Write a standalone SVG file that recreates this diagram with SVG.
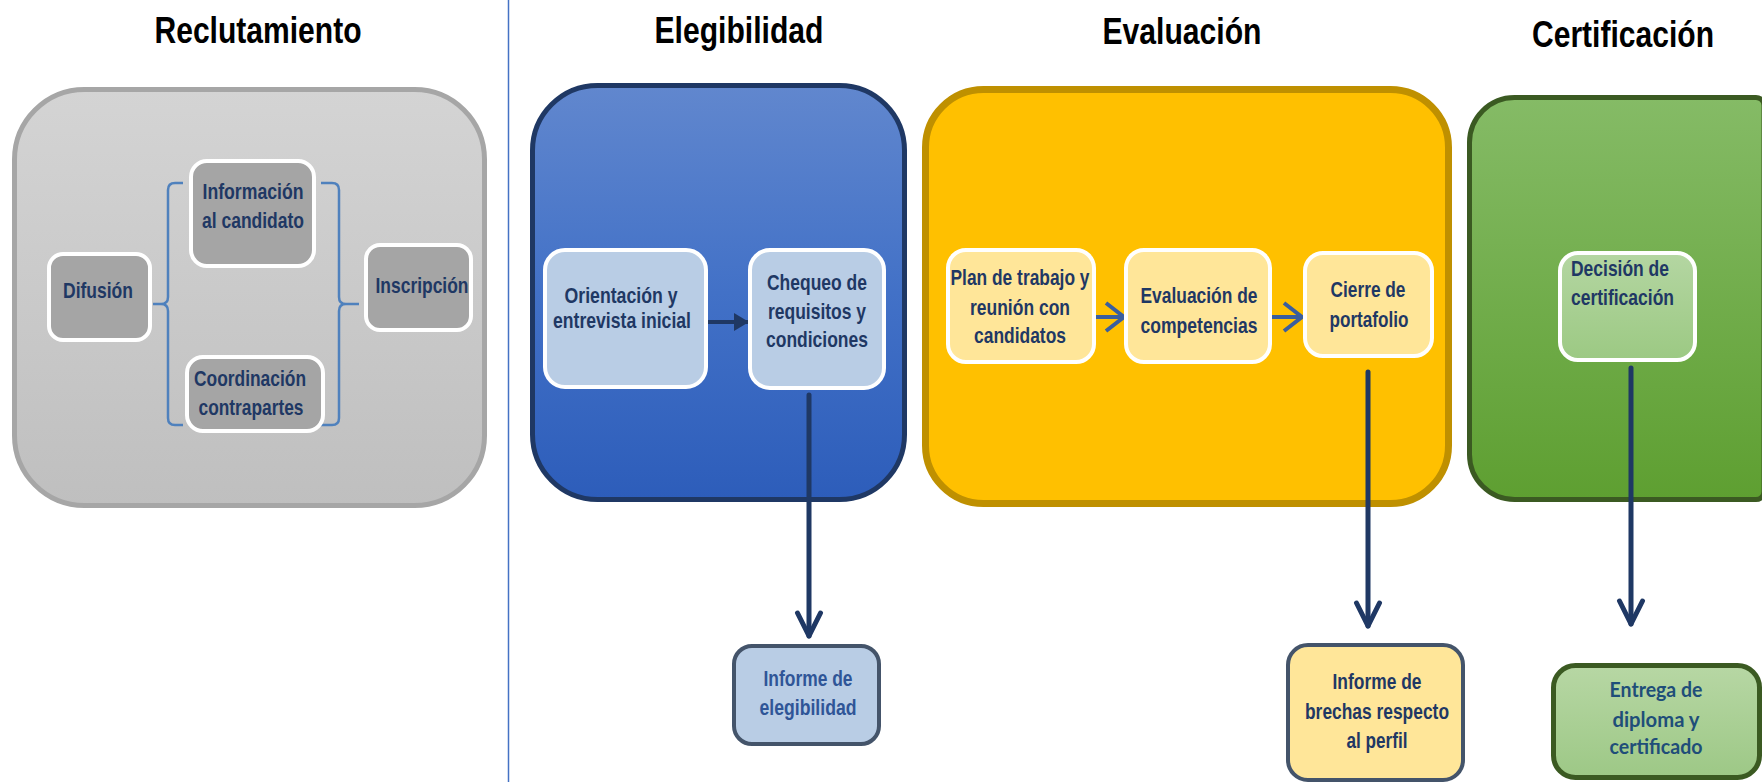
<svg xmlns="http://www.w3.org/2000/svg" width="1762" height="782" viewBox="0 0 1762 782">
<style>
.t{font-family:"Liberation Sans Narrow","Liberation Sans",Arial,sans-serif;font-weight:bold;font-size:21.5px;fill:#1f3864;text-anchor:middle}
.title{font-size:36.6px;fill:#000}
.lt{fill:#2f5597}
.cal{font-family:Lato,"Open Sans","Liberation Sans",sans-serif;font-size:20px;fill:#1f4e79}
.inner{stroke:#fff;stroke-width:4}
.gbox{fill:#a5a5a5}
.bbox{fill:#b9cde5}
.ybox{fill:#ffe699}
.conn{fill:none;stroke:#1f3864;stroke-width:5;stroke-linecap:round}
.conn2{fill:none;stroke:#3a5e9e;stroke-width:4}
.brace{fill:none;stroke:#4f81bd;stroke-width:2.5}
</style>
<defs>
<linearGradient id="gGray" x1="0" y1="0" x2="0" y2="1"><stop offset="0" stop-color="#d4d4d4"/><stop offset="1" stop-color="#bfbfbf"/></linearGradient>
<linearGradient id="gBlue" x1="0" y1="0" x2="0" y2="1"><stop offset="0" stop-color="#6187ce"/><stop offset="0.5" stop-color="#4271c7"/><stop offset="1" stop-color="#2d5dba"/></linearGradient>
<linearGradient id="gGreen" x1="0" y1="0" x2="0" y2="1"><stop offset="0" stop-color="#85bb66"/><stop offset="1" stop-color="#5e9f31"/></linearGradient>
<linearGradient id="gDec" x1="0" y1="0" x2="0" y2="1"><stop offset="0" stop-color="#b4d6a2"/><stop offset="1" stop-color="#9cc983"/></linearGradient>
<linearGradient id="gEnt" x1="0" y1="0" x2="0" y2="1"><stop offset="0" stop-color="#b7d7a4"/><stop offset="1" stop-color="#9dc886"/></linearGradient>
<marker id="chev" markerUnits="userSpaceOnUse" viewBox="-4 -16 32 32" markerWidth="32" markerHeight="32" refX="24" refY="0" orient="auto" overflow="visible">
<path d="M1,-11.5 L24,0 L1,11.5" fill="none" stroke="#1f3864" stroke-width="5" stroke-linecap="round" stroke-linejoin="round"/>
</marker>
<marker id="chevS" markerUnits="userSpaceOnUse" viewBox="-4 -18 30 36" markerWidth="30" markerHeight="36" refX="20" refY="0" orient="auto" overflow="visible">
<path d="M2,-14 L20,0 L2,14" fill="none" stroke="#3a5e9e" stroke-width="4" stroke-linejoin="miter"/>
</marker>
<marker id="tri" markerUnits="userSpaceOnUse" viewBox="0 -10 16 20" markerWidth="16" markerHeight="20" refX="14" refY="0" orient="auto" overflow="visible">
<path d="M0,-9 L15,0 L0,9 Z" fill="#1f3864"/>
</marker>
</defs>
<rect width="1762" height="782" fill="#fff"/>

<!-- titles -->
<g id="titles">
<text class="t title" x="258" y="43" textLength="207" lengthAdjust="spacingAndGlyphs">Reclutamiento</text>
<text class="t title" x="739" y="43" textLength="169" lengthAdjust="spacingAndGlyphs">Elegibilidad</text>
<text class="t title" x="1182" y="44" textLength="159" lengthAdjust="spacingAndGlyphs">Evaluación</text>
<text class="t title" x="1623" y="47" textLength="182" lengthAdjust="spacingAndGlyphs">Certificación</text>
</g>

<line id="separator" x1="508.5" y1="0" x2="508.5" y2="782" stroke="#4472c4" stroke-width="1.5"/>

<!-- containers -->
<g id="reclutamiento">
<rect x="14.5" y="89.5" width="470" height="416" rx="70" fill="url(#gGray)" stroke="#a6a6a6" stroke-width="5"/>
</g>
<g id="elegibilidad">
<rect x="532.5" y="85.5" width="372" height="414" rx="65" fill="url(#gBlue)" stroke="#1f3864" stroke-width="5"/>
</g>
<g id="evaluacion">
<rect x="925.5" y="89.5" width="523" height="414" rx="58" fill="#ffc000" stroke="#bf9000" stroke-width="7"/>
</g>
<g id="certificacion">
<path d="M1514.5,97.5 L1756,97.5 A8,8 0 0 1 1764,105.5 L1764,491.5 A8,8 0 0 1 1756,499.5 L1514.5,499.5 A45,45 0 0 1 1469.5,454.5 L1469.5,142.5 A45,45 0 0 1 1514.5,97.5 Z" fill="url(#gGreen)" stroke="#3b5a22" stroke-width="5"/>
</g>

<!-- connectors -->
<g id="connectors">
<path class="brace" d="M183,183 H175 Q168,183 168,190 V297 Q168,304 161,304 H153 M161,304 Q168,304 168,311 V418 Q168,425 175,425 H183"/>
<path class="brace" d="M321,183 H332 Q339,183 339,190 V297 Q339,304 346,304 H359 M346,304 Q339,304 339,311 V418 Q339,425 332,425 H321"/>
<line x1="705" y1="322" x2="748" y2="322" stroke="#1f3864" stroke-width="4" marker-end="url(#tri)"/>
<line class="conn2" x1="1096" y1="317" x2="1124" y2="317" marker-end="url(#chevS)"/>
<line class="conn2" x1="1272" y1="317" x2="1302" y2="317" marker-end="url(#chevS)"/>
<line class="conn" x1="809" y1="395" x2="809" y2="636" marker-end="url(#chev)"/>
<line class="conn" x1="1368" y1="372" x2="1368" y2="626" marker-end="url(#chev)"/>
<line class="conn" x1="1631" y1="368" x2="1631" y2="624" marker-end="url(#chev)"/>
</g>

<!-- Reclutamiento nodes -->
<g id="difusion">
<rect class="gbox inner" x="49" y="254" width="101" height="86" rx="14"/>
<text class="t" x="98" y="298" textLength="70" lengthAdjust="spacingAndGlyphs">Difusión</text>
</g>
<g id="informacion">
<rect class="gbox inner" x="191" y="161" width="123" height="105" rx="16"/>
<text class="t" x="253" y="199" textLength="101" lengthAdjust="spacingAndGlyphs">Información</text>
<text class="t" x="253" y="228" textLength="102" lengthAdjust="spacingAndGlyphs">al candidato</text>
</g>
<g id="coordinacion">
<rect class="gbox inner" x="187" y="357" width="136" height="74" rx="16"/>
<text class="t" x="250" y="386" textLength="112" lengthAdjust="spacingAndGlyphs">Coordinación</text>
<text class="t" x="251" y="415" textLength="105" lengthAdjust="spacingAndGlyphs">contrapartes</text>
</g>
<g id="inscripcion">
<rect class="gbox inner" x="366" y="245" width="105" height="85" rx="14"/>
<text class="t" x="422" y="293" textLength="93" lengthAdjust="spacingAndGlyphs">Inscripción</text>
</g>

<!-- Elegibilidad nodes -->
<g id="orientacion">
<rect class="bbox inner" x="545" y="250" width="161" height="137" rx="20"/>
<text class="t" x="621" y="303" textLength="113" lengthAdjust="spacingAndGlyphs">Orientación y</text>
<text class="t" x="622" y="328" textLength="138" lengthAdjust="spacingAndGlyphs">entrevista inicial</text>
</g>
<g id="chequeo">
<rect class="bbox inner" x="750" y="250" width="134" height="138" rx="20"/>
<text class="t" x="817" y="290" textLength="100" lengthAdjust="spacingAndGlyphs">Chequeo de</text>
<text class="t" x="817" y="319" textLength="98" lengthAdjust="spacingAndGlyphs">requisitos y</text>
<text class="t" x="817" y="347" textLength="102" lengthAdjust="spacingAndGlyphs">condiciones</text>
</g>
<g id="informe-elegibilidad">
<rect class="bbox" x="734" y="646" width="145" height="98" rx="18" stroke="#44546a" stroke-width="4"/>
<text class="t lt" x="808" y="686" textLength="89" lengthAdjust="spacingAndGlyphs">Informe de</text>
<text class="t lt" x="808" y="715" textLength="97" lengthAdjust="spacingAndGlyphs">elegibilidad</text>
</g>

<!-- Evaluación nodes -->
<g id="plan">
<rect class="ybox inner" x="948" y="250" width="146" height="112" rx="18"/>
<text class="t" x="1020" y="285" textLength="139" lengthAdjust="spacingAndGlyphs">Plan de trabajo y</text>
<text class="t" x="1020" y="315" textLength="100" lengthAdjust="spacingAndGlyphs">reunión con</text>
<text class="t" x="1020" y="343" textLength="92" lengthAdjust="spacingAndGlyphs">candidatos</text>
</g>
<g id="evaluacion-competencias">
<rect class="ybox inner" x="1126" y="250" width="144" height="112" rx="18"/>
<text class="t" x="1199" y="303" textLength="117" lengthAdjust="spacingAndGlyphs">Evaluación de</text>
<text class="t" x="1199" y="333" textLength="117" lengthAdjust="spacingAndGlyphs">competencias</text>
</g>
<g id="cierre">
<rect class="ybox inner" x="1305" y="253" width="127" height="103" rx="18"/>
<text class="t" x="1368" y="297" textLength="75" lengthAdjust="spacingAndGlyphs">Cierre de</text>
<text class="t" x="1369" y="327" textLength="79" lengthAdjust="spacingAndGlyphs">portafolio</text>
</g>
<g id="informe-brechas">
<rect class="ybox" x="1288" y="645" width="175" height="135" rx="20" stroke="#44546a" stroke-width="4"/>
<text class="t" x="1377" y="689" textLength="89" lengthAdjust="spacingAndGlyphs">Informe de</text>
<text class="t" x="1377" y="719" textLength="144" lengthAdjust="spacingAndGlyphs">brechas respecto</text>
<text class="t" x="1377" y="748" textLength="61" lengthAdjust="spacingAndGlyphs">al perfil</text>
</g>

<!-- Certificación nodes -->
<g id="decision">
<rect x="1560" y="253" width="135" height="107" rx="18" fill="url(#gDec)" stroke="#fff" stroke-width="4"/>
<text class="t" x="1571" y="276" text-anchor="start" style="text-anchor:start" textLength="98" lengthAdjust="spacingAndGlyphs">Decisión de</text>
<text class="t" x="1571" y="305" style="text-anchor:start" textLength="103" lengthAdjust="spacingAndGlyphs">certificación</text>
</g>
<g id="entrega">
<rect x="1553.5" y="665.5" width="206" height="112" rx="22" fill="url(#gEnt)" stroke="#3b5a22" stroke-width="5"/>
<text class="t cal" x="1656" y="697" textLength="93" lengthAdjust="spacingAndGlyphs">Entrega de</text>
<text class="t cal" x="1656" y="727" textLength="87" lengthAdjust="spacingAndGlyphs">diploma y</text>
<text class="t cal" x="1656" y="754" textLength="93" lengthAdjust="spacingAndGlyphs">certificado</text>
</g>
</svg>
